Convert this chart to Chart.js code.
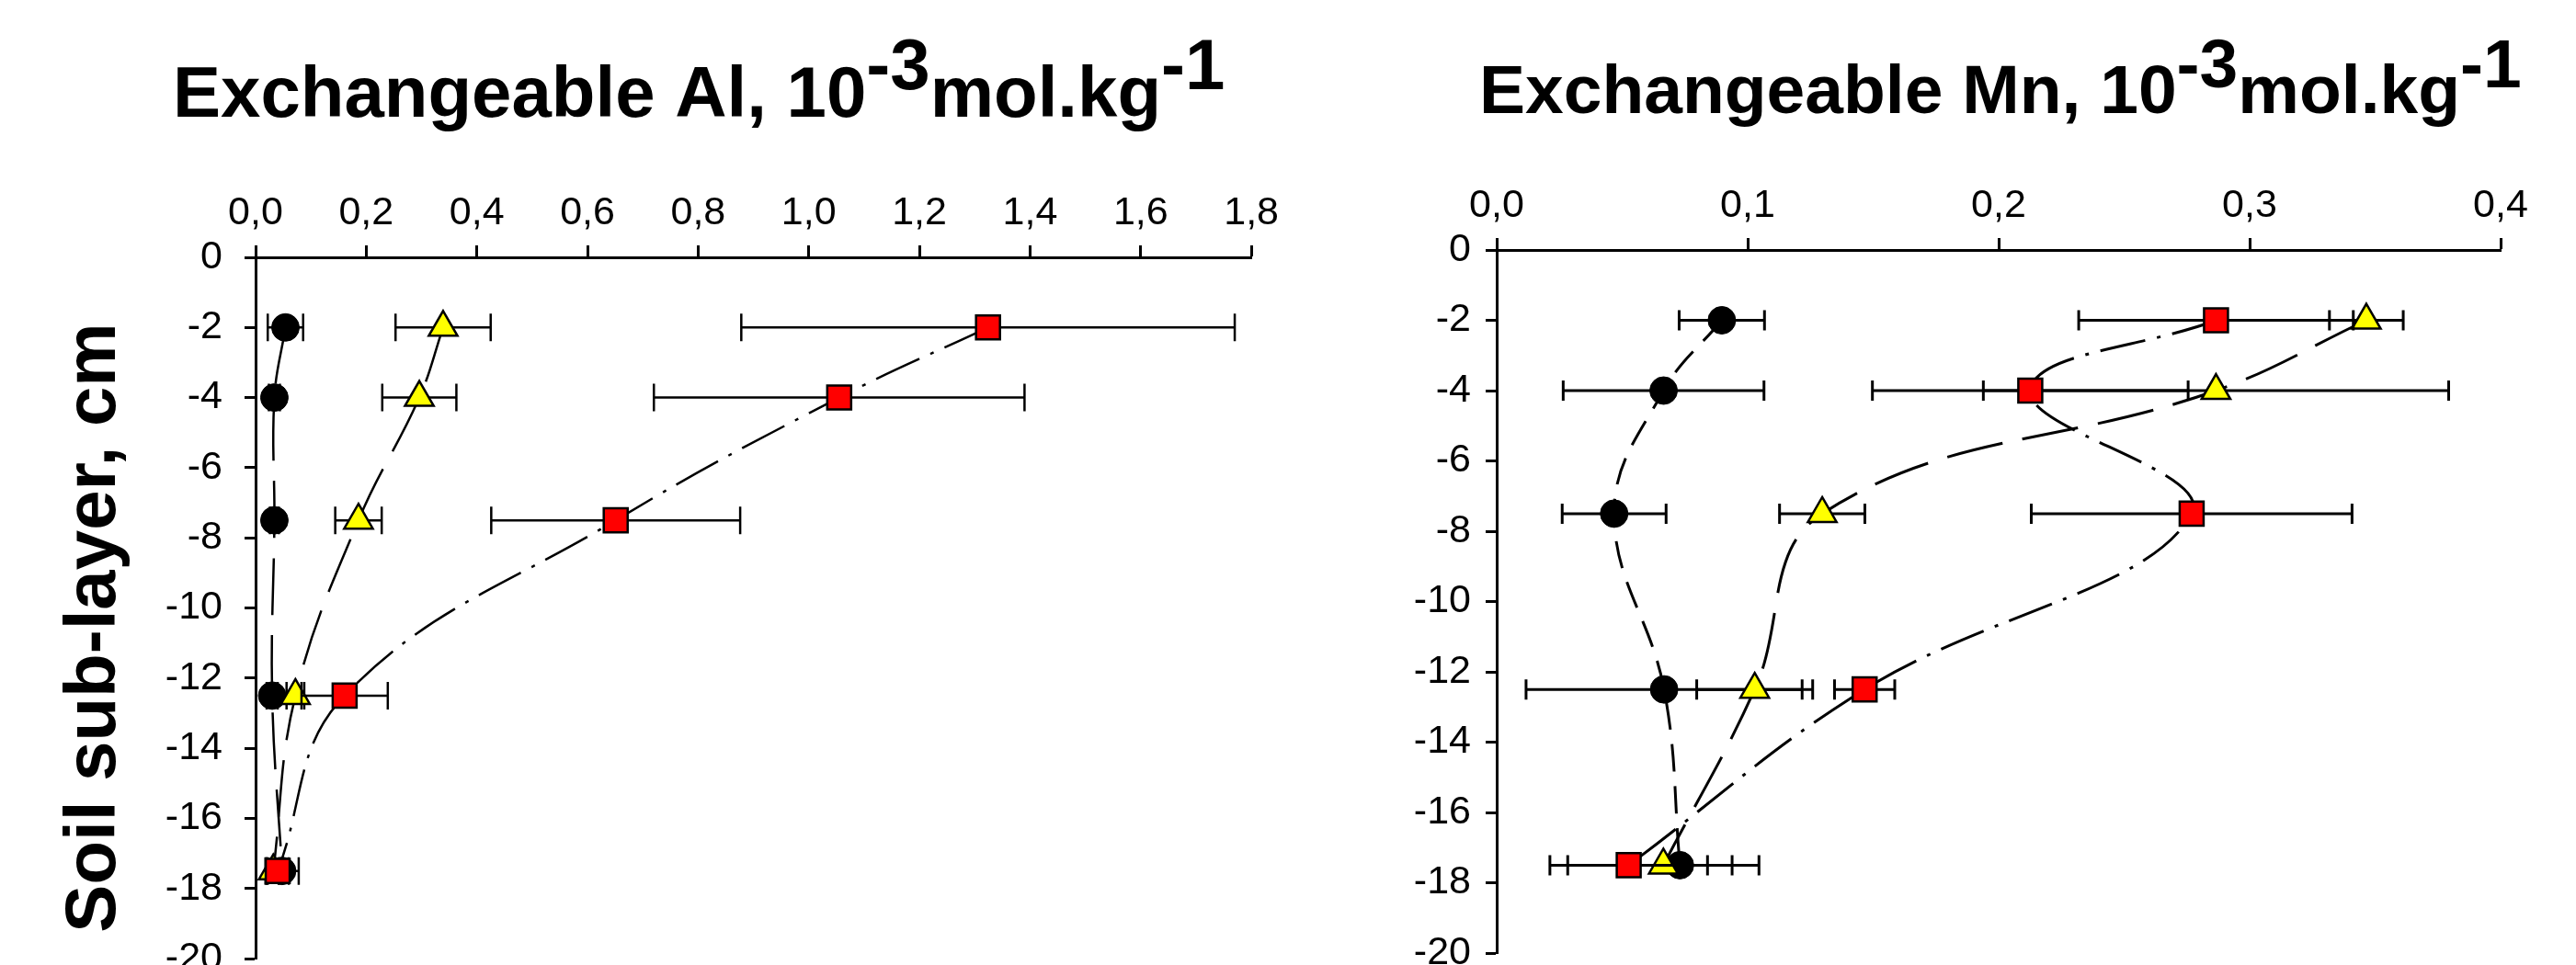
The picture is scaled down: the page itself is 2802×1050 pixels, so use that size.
<!DOCTYPE html>
<html>
<head>
<meta charset="utf-8">
<script src="https://cdn.jsdelivr.net/npm/chart.js@4.4.1/dist/chart.umd.min.js"></script>
<style>
  html, body { margin: 0; padding: 0; background: #fff; overflow: hidden; }
  body { width: 2802px; height: 1050px; position: relative; }
  canvas { position: absolute; top: 0; }
  #alChart { left: 0; }
  #mnChart { left: 1400px; }
</style>
</head>
<body>
<canvas id="alChart" width="1400" height="1100"></canvas>
<canvas id="mnChart" width="1402" height="1100"></canvas>
<script>
// soil sub-layer mid depths, cm
const depths = [-2, -4, -7.5, -12.5, -17.5];
const depthTicks = [0, -2, -4, -6, -8, -10, -12, -14, -16, -18, -20];

// Exchangeable Al, 10^-3 mol/kg
const alTicks = [0, 0.2, 0.4, 0.6, 0.8, 1.0, 1.2, 1.4, 1.6, 1.8];
const alCircle = [0.054, 0.034, 0.034, 0.030, 0.048];
const alCircleErr = [0.032, 0.010, 0.008, 0.010, 0.030];
const alTriangle = [0.339, 0.296, 0.186, 0.072, 0.032];
const alTriangleErr = [0.086, 0.067, 0.042, 0.016, 0.010];
const alSquare = [1.324, 1.055, 0.651, 0.161, 0.040];
const alSquareErr = [0.446, 0.335, 0.225, 0.078, 0.020];

// Exchangeable Mn, 10^-3 mol/kg
const mnTicks = [0, 0.1, 0.2, 0.3, 0.4];
const mnCircle = [0.0897, 0.0665, 0.0468, 0.0667, 0.0730];
const mnCircleErr = [0.0170, 0.0400, 0.0207, 0.0550, 0.0208];
const mnTriangle = [0.3465, 0.2866, 0.1297, 0.1028, 0.0664];
const mnTriangleErr = [0.0147, 0.0927, 0.0170, 0.0231, 0.0381];
const mnSquare = [0.2866, 0.2126, 0.2769, 0.1466, 0.0526];
const mnSquareErr = [0.0547, 0.0629, 0.0639, 0.0120, 0.0314];

const FONT = '"Liberation Sans", Arial, sans-serif';
Chart.defaults.font.family = FONT;
Chart.defaults.color = "#000";

const comma = (v) => v.toFixed(1).replace(".", ",");

// horizontal error bars, drawn just before each dataset so markers sit on top
const errorBars = {
  id: "errorBars",
  beforeDatasetDraw(chart, args, opts) {
    const ds = chart.data.datasets[args.index];
    if (!ds.xErr) return;
    const { x, y } = chart.scales;
    const ctx = chart.ctx;
    ctx.save();
    ctx.strokeStyle = "#000";
    ctx.lineWidth = opts.width;
    ds.data.forEach((p, i) => {
      const e = ds.xErr[i];
      const x0 = x.getPixelForValue(p.x - e);
      const x1 = x.getPixelForValue(p.x + e);
      const py = y.getPixelForValue(p.y);
      ctx.beginPath();
      ctx.moveTo(x0, py);
      ctx.lineTo(x1, py);
      ctx.moveTo(x0, py - opts.cap);
      ctx.lineTo(x0, py + opts.cap);
      ctx.moveTo(x1, py - opts.cap);
      ctx.lineTo(x1, py + opts.cap);
      ctx.stroke();
    });
    ctx.restore();
  },
};

// title with superscripts + optional rotated y axis title
const texts = {
  id: "texts",
  afterDraw(chart, args, opts) {
    const ctx = chart.ctx;
    ctx.save();
    ctx.fillStyle = "#000";
    ctx.font = "bold " + opts.size + "px " + FONT;
    ctx.textBaseline = "alphabetic";
    ctx.textAlign = "left";
    let cx = opts.x;
    opts.pieces.forEach(([txt, sup]) => {
      ctx.fillText(txt, cx, sup ? opts.y - opts.rise : opts.y);
      cx += ctx.measureText(txt).width;
    });
    if (opts.yTitle) {
      ctx.font = "bold " + opts.yTitle.size + "px " + FONT;
      ctx.translate(opts.yTitle.x, opts.yTitle.y);
      ctx.rotate(-Math.PI / 2);
      ctx.textAlign = "center";
      ctx.fillText(opts.yTitle.text, 0, 0);
    }
    ctx.restore();
  },
};

function makeSeries(values, errs, style) {
  return {
    data: values.map((v, i) => ({ x: v, y: depths[i] })),
    xErr: errs,
    showLine: true,
    tension: 0.4,
    clip: false,
    borderColor: "#000",
    ...style,
  };
}

function makeChart(id, cfg) {
  return new Chart(document.getElementById(id), {
    type: "scatter",
    data: {
      datasets: [
        makeSeries(cfg.circle, cfg.circleErr, {
          order: 3,
          borderWidth: cfg.lineWidth,
          borderDash: cfg.dashes[0],
          pointStyle: "circle",
          pointRadius: 15,
          pointBackgroundColor: "#000",
          pointBorderColor: "#000",
          pointBorderWidth: 1,
        }),
        makeSeries(cfg.triangle, cfg.triangleErr, {
          order: 2,
          borderWidth: cfg.lineWidth,
          borderDash: cfg.dashes[1],
          pointStyle: "triangle",
          pointRadius: 18,
          pointBackgroundColor: "#FFFF00",
          pointBorderColor: "#000",
          pointBorderWidth: 2.5,
        }),
        makeSeries(cfg.square, cfg.squareErr, {
          order: 1,
          borderWidth: cfg.lineWidth,
          borderDash: cfg.dashes[2],
          pointStyle: "rect",
          pointRadius: 18.4,
          pointBackgroundColor: "#FF0000",
          pointBorderColor: "#000",
          pointBorderWidth: 2.5,
        }),
      ],
    },
    options: {
      responsive: false,
      animation: false,
      devicePixelRatio: 1,
      layout: { padding: cfg.padding },
      scales: {
        x: {
          type: "linear",
          position: "top",
          min: cfg.xTicks[0],
          max: cfg.xTicks[cfg.xTicks.length - 1],
          afterBuildTicks: (s) => {
            s.ticks = cfg.xTicks.map((v) => ({ value: v }));
          },
          afterFit: (s) => {
            s.height = 80;
          },
          grid: {
            drawOnChartArea: false,
            tickLength: 13,
            tickWidth: 3,
            tickColor: "#000",
          },
          border: { display: true, width: 3, color: "#000" },
          ticks: {
            font: { size: 43 },
            padding: 9,
            maxRotation: 0,
            autoSkip: false,
            callback: (v) => comma(v),
          },
        },
        y: {
          type: "linear",
          position: "left",
          min: -20,
          max: 0,
          afterBuildTicks: (s) => {
            s.ticks = depthTicks.map((v) => ({ value: v }));
          },
          afterFit: (s) => {
            s.width = 100;
          },
          grid: {
            drawOnChartArea: false,
            tickLength: 12,
            tickWidth: 3,
            tickColor: "#000",
          },
          border: { display: true, width: 3, color: "#000" },
          ticks: {
            font: { size: 43 },
            padding: cfg.yPad,
            autoSkip: false,
            callback: (v) => String(v),
          },
        },
      },
      plugins: {
        legend: { display: false },
        tooltip: { enabled: false },
        errorBars: { width: cfg.errWidth, cap: cfg.cap },
        texts: cfg.texts,
      },
    },
    plugins: [errorBars, texts],
  });
}

makeChart("alChart", {
  circle: alCircle,
  circleErr: alCircleErr,
  triangle: alTriangle,
  triangleErr: alTriangleErr,
  square: alSquare,
  squareErr: alSquareErr,
  xTicks: alTicks,
  lineWidth: 2.5,
  dashes: [[62, 22], [62, 22], [52, 13, 4, 13]],
  errWidth: 2.5,
  cap: 15,
  yPad: 24,
  padding: { left: 178, top: 200, right: 36, bottom: 57 },
  texts: {
    x: 188,
    y: 127,
    size: 78,
    rise: 30,
    pieces: [["Exchangeable Al, 10", false], ["-3", true], ["mol.kg", false], ["-1", true]],
    yTitle: { text: "Soil sub-layer, cm", x: 125, y: 683, size: 78 },
  },
});

makeChart("mnChart", {
  circle: mnCircle,
  circleErr: mnCircleErr,
  triangle: mnTriangle,
  triangleErr: mnTriangleErr,
  square: mnSquare,
  squareErr: mnSquareErr,
  xTicks: mnTicks,
  lineWidth: 3,
  dashes: [[30, 16], [62, 22], [50, 13, 4, 13]],
  errWidth: 3,
  cap: 11,
  yPad: 16,
  padding: { left: 128, top: 192, right: 82, bottom: 63 },
  texts: {
    x: 209,
    y: 123,
    size: 75,
    rise: 28,
    pieces: [["Exchangeable Mn, 10", false], ["-3", true], ["mol.kg", false], ["-1", true]],
  },
});
</script>
</body>
</html>
